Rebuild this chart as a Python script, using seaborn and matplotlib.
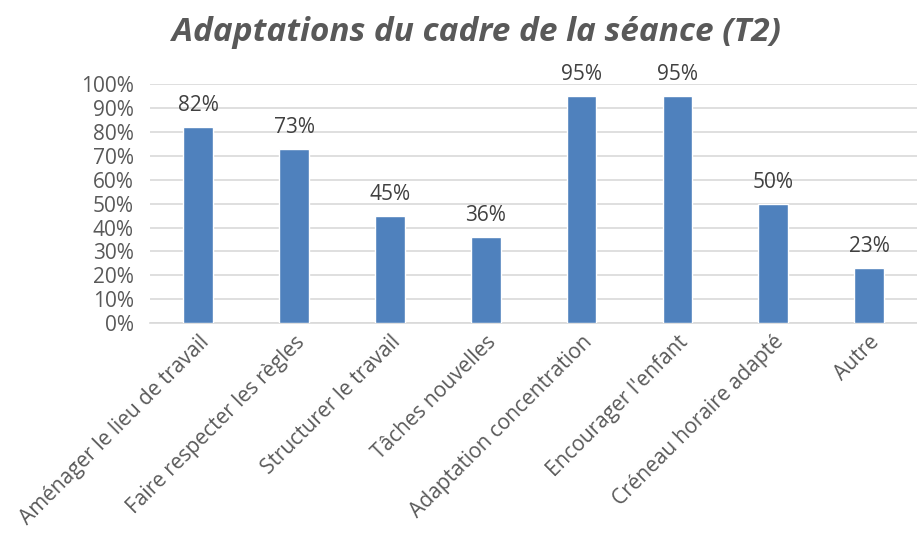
import numpy as np
import pandas as pd
import seaborn as sns
import matplotlib.pyplot as plt
from matplotlib.ticker import PercentFormatter

categories = ["Aménager le lieu de travail", "Faire respecter les règles",
              "Structurer le travail", "Tâches nouvelles",
              "Adaptation concentration", "Encourager l'enfant",
              "Créneau horaire adapté", "Autre"]
values = [82, 73, 45, 36, 95, 95, 50, 23]

df = pd.DataFrame({"categorie": categories, "pct": values})

sns.set_theme(style="white")
plt.rcParams['font.family'] = ['Open Sans', 'DejaVu Sans']

fig = plt.figure(figsize=(9.17, 5.36), dpi=100)
ax = fig.add_axes([0.164, 0.397, 0.836, 0.446])

sns.barplot(data=df, x="categorie", y="pct", color="#4F81BD", saturation=1,
            width=0.31, ax=ax, zorder=3)

ax.set_ylim(0, 100)
ax.set_xlim(-0.5, 7.5)
ax.set_yticks(range(0, 101, 10))
ax.yaxis.set_major_formatter(PercentFormatter(decimals=0))
ax.grid(axis="y", color="#d9d9d9", linewidth=1.2, zorder=0)
for s in ["top", "right", "left"]:
    ax.spines[s].set_visible(False)
ax.spines["bottom"].set_color("#d9d9d9")
ax.spines["bottom"].set_linewidth(1.2)
ax.set_xlabel("")
ax.set_ylabel("")
ax.tick_params(axis="both", length=0, labelsize=15, colors="#595959")
ax.tick_params(axis="y", pad=12)
ax.tick_params(axis="x", pad=6)
plt.setp(ax.get_xticklabels(), rotation=45, ha="right", rotation_mode="anchor")

for i, v in enumerate(values):
    ax.text(i, v + 4.5, f"{v}%", ha="center", va="bottom", fontsize=15, color="#404040")

fig.suptitle("Adaptations du cadre de la séance (T2)", x=0.52, y=0.97,
             fontsize=24, fontweight="bold", fontstyle="italic", color="#595959")

fig.savefig("out.png", dpi=100)
